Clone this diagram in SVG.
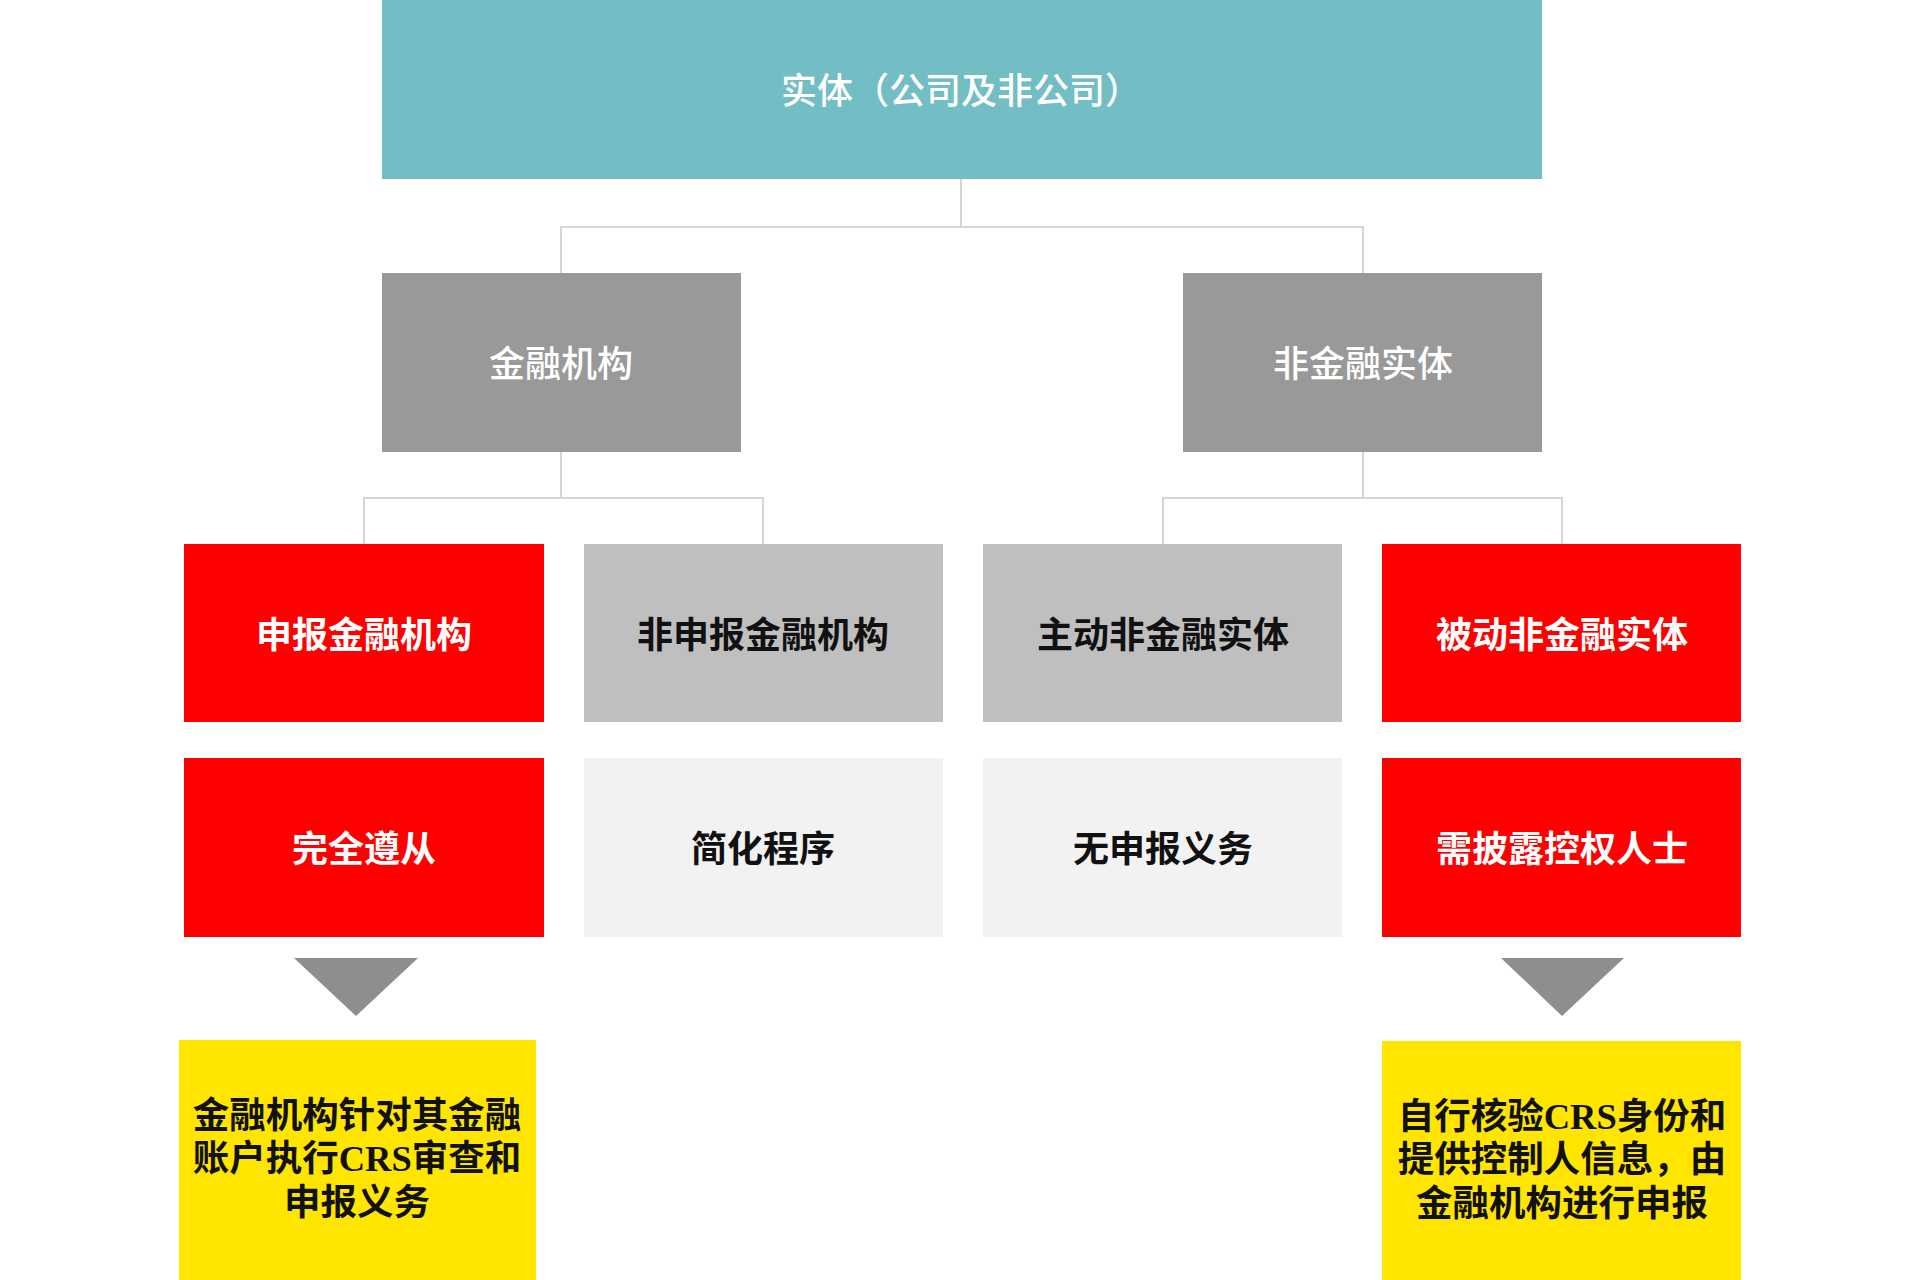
<svg xmlns="http://www.w3.org/2000/svg" width="1920" height="1280" viewBox="0 0 1920 1280">
<style>
text{font-family:"Noto Sans CJK SC","Noto Sans",sans-serif;font-size:36px;text-anchor:middle;dominant-baseline:central}
.w{fill:#ffffff}
.k{fill:#111111}
.b{font-weight:bold}
.m{font-weight:500}
.y{font-family:"Liberation Serif","Noto Sans CJK SC",serif;font-weight:bold;font-size:36.5px;fill:#111111}
.conn{fill:none;stroke:#d6d6d6;stroke-width:2}
.tri{fill:#8e8e8e}
</style>
<rect width="1920" height="1280" fill="#ffffff"/>
<g id="connectors">
<path class="conn" d="M961 179V227M561 273V227H1363V273"/>
<path class="conn" d="M561 452V498M364 544V498H763V544"/>
<path class="conn" d="M1363 452V498M1163 544V498H1562V544"/>
<polygon class="tri" points="294,958 418,958 356,1016"/>
<polygon class="tri" points="1501,958 1624,958 1562,1016"/>
</g>
<g id="entity"><rect x="382" y="0" width="1160" height="179" fill="#72bec4"/><text class="w m" x="961" y="88">实体（公司及非公司）</text></g>
<g id="fi"><rect x="382" y="273" width="359" height="179" fill="#999999"/><text class="w m" x="561" y="361">金融机构</text></g>
<g id="nfe"><rect x="1183" y="273" width="359" height="179" fill="#999999"/><text class="w m" x="1363" y="361">非金融实体</text></g>
<g id="rfi"><rect x="184" y="544" width="360" height="178" fill="#ff0000"/><text class="w b" x="364" y="632">申报金融机构</text></g>
<g id="nrfi"><rect x="584" y="544" width="359" height="178" fill="#bfbfbf"/><text class="k b" x="763" y="632">非申报金融机构</text></g>
<g id="anfe"><rect x="983" y="544" width="359" height="178" fill="#bfbfbf"/><text class="k b" x="1163" y="632">主动非金融实体</text></g>
<g id="pnfe"><rect x="1382" y="544" width="359" height="178" fill="#ff0000"/><text class="w b" x="1562" y="632">被动非金融实体</text></g>
<g id="full"><rect x="184" y="758" width="360" height="179" fill="#ff0000"/><text class="w b" x="364" y="846">完全遵从</text></g>
<g id="simple"><rect x="584" y="758" width="359" height="179" fill="#f2f2f2"/><text class="k b" x="763" y="846">简化程序</text></g>
<g id="none"><rect x="983" y="758" width="359" height="179" fill="#f2f2f2"/><text class="k b" x="1163" y="846">无申报义务</text></g>
<g id="disclose"><rect x="1382" y="758" width="359" height="179" fill="#ff0000"/><text class="w b" x="1562" y="846">需披露控权人士</text></g>
<g id="fi-duty"><rect x="179" y="1040" width="357" height="240" fill="#ffe500"/>
<text class="y" x="357" y="1115">金融机构针对其金融</text>
<text class="y" x="357" y="1158">账户执行CRS审查和</text>
<text class="y" x="357" y="1202">申报义务</text></g>
<g id="nfe-duty"><rect x="1382" y="1041" width="359" height="239" fill="#ffe500"/>
<text class="y" x="1562" y="1116">自行核验CRS身份和</text>
<text class="y" x="1562" y="1159">提供控制人信息，由</text>
<text class="y" x="1562" y="1203">金融机构进行申报</text></g>
</svg>
